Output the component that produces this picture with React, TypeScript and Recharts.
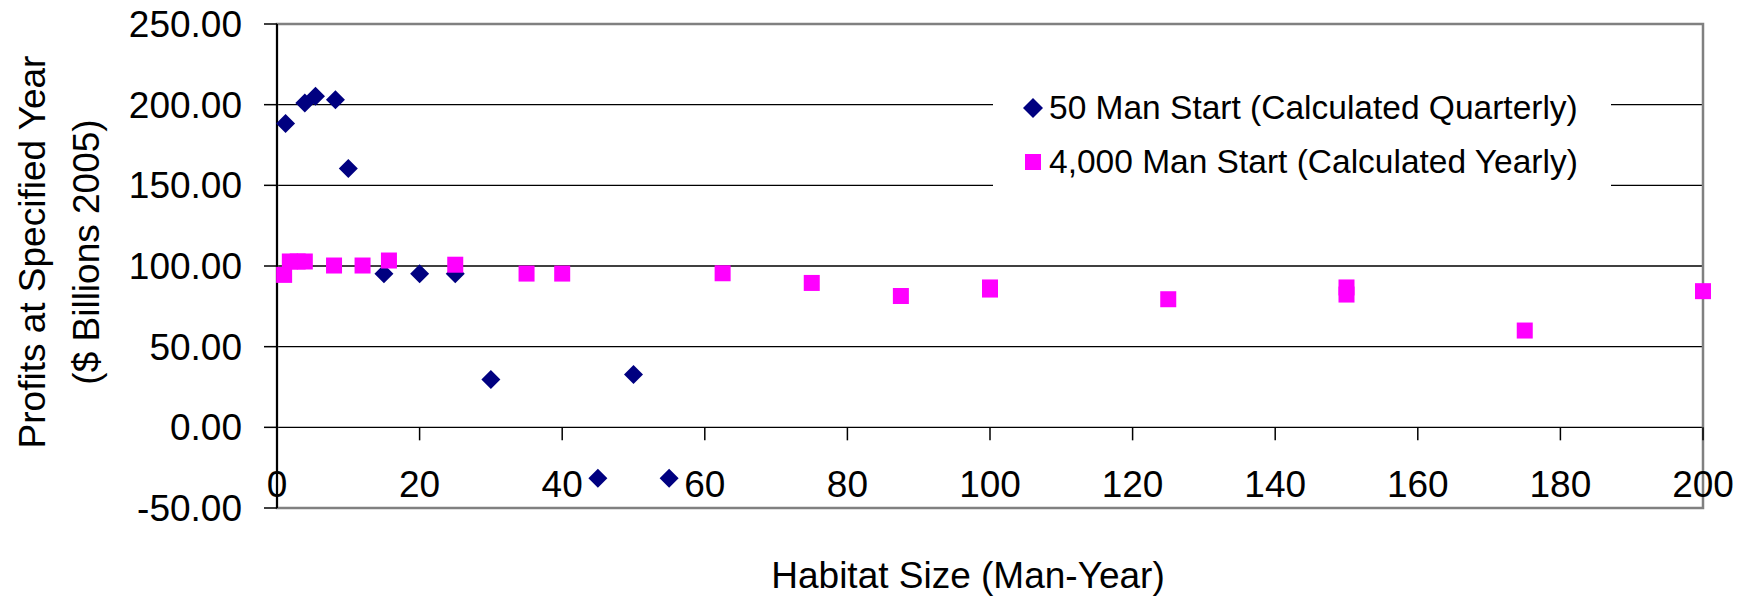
import React from "react";
import {
  ScatterChart,
  Scatter,
  XAxis,
  YAxis,
  CartesianGrid,
  ReferenceArea,
  Legend,
} from "recharts";

// 50 man start, calculated quarterly
const quarterlySize = [1.2, 3.9, 5.4, 8.2, 10, 15, 20, 25, 30, 45, 50, 55];
const quarterlyProfit = [188.4, 201, 205.2, 203, 160.5, 95.2, 95.2, 95.2, 29.7, -31.6, 32.8, -31.6];

// 4,000 man start, calculated yearly
const yearlySize = [1, 1.8, 2.9, 3.9, 8, 12, 15.7, 25, 35, 40, 62.5, 75, 87.5, 100, 100, 125, 150, 150, 175, 200];
const yearlyProfit = [94.5, 102.8, 102.8, 102.8, 100.3, 100.3, 103.4, 100.8, 95.3, 95.3, 95.5, 89.5, 81.4, 86.7, 85.4, 79.4, 86.7, 82.3, 60, 84.4];

const xTicks = [0, 20, 40, 60, 80, 100, 120, 140, 160, 180, 200];
const yTicks = [-50, 0, 50, 100, 150, 200, 250];

const seriesNames = ["50 Man Start (Calculated Quarterly)", "4,000 Man Start (Calculated Yearly)"];

const NAVY = "#000080";
const MAGENTA = "#ff00ff";
const FONT = "'Liberation Sans', Arial, sans-serif";

const W = 1748;
const H = 597;
const TOP = 24;
const X_AXIS_H = 89;
const PLOT_H = H - TOP - X_AXIS_H;
const Y_MIN = -50;
const Y_MAX = 250;

const quarterly = quarterlySize.map((x, i) => ({ x, y: quarterlyProfit[i] }));
const yearly = yearlySize.map((x, i) => ({ x, y: yearlyProfit[i] }));

const Diamond = (props: any) => {
  const { cx, cy } = props;
  const r = 9.5;
  return (
    <polygon
      points={`${cx},${cy - r} ${cx + r},${cy} ${cx},${cy + r} ${cx - r},${cy}`}
      fill={NAVY}
    />
  );
};

const Square = (props: any) => {
  const { cx, cy } = props;
  const s = 16;
  return <rect x={cx - s / 2} y={cy - s / 2} width={s} height={s} fill={MAGENTA} />;
};

// x axis crosses at y = 0, so ticks sit on the zero line
const XTick = (props: any) => {
  const { x, y, payload } = props;
  const y0 = y - (PLOT_H * (0 - Y_MIN)) / (Y_MAX - Y_MIN);
  return (
    <g>
      <line x1={x} x2={x} y1={y0} y2={y0 + 13} stroke="#000" strokeWidth={1.5} />
      <text x={x} y={y0 + 70} textAnchor="middle" fontSize={37} fontFamily={FONT} fill="#000">
        {payload.value}
      </text>
    </g>
  );
};

const YTitle = (props: any) => {
  const vb = props.viewBox;
  const cy = vb.y + vb.height / 2 - 14;
  return (
    <g fontSize={37} fontFamily={FONT} fill="#000">
      <text transform={`translate(45,${cy}) rotate(-90)`} textAnchor="middle">
        Profits at Specified Year
      </text>
      <text transform={`translate(99,${cy}) rotate(-90)`} textAnchor="middle">
        ($ Billions 2005)
      </text>
    </g>
  );
};

const XTitle = (props: any) => {
  const vb = props.viewBox;
  return (
    <text
      x={vb.x + vb.width / 2 - 22}
      y={vb.y + 80}
      textAnchor="middle"
      fontSize={37}
      fontFamily={FONT}
      fill="#000"
    >
      Habitat Size (Man-Year)
    </text>
  );
};

const LegendBox = () => (
  <div style={{ fontFamily: FONT, fontSize: 33.5, color: "#000" }}>
    {seriesNames.map((name, i) => (
      <div key={name} style={{ position: "relative", height: 54, lineHeight: "54px", whiteSpace: "nowrap" }}>
        <svg width={22} height={22} style={{ position: "absolute", left: 29, top: 16 }}>
          {i === 0 ? (
            <polygon points="11,1 21,11 11,21 1,11" fill={NAVY} />
          ) : (
            <rect x={3} y={3} width={16} height={16} fill={MAGENTA} />
          )}
        </svg>
        <span style={{ position: "absolute", left: 56 }}>{name}</span>
      </div>
    ))}
  </div>
);

export default function App() {
  return (
    <div style={{ position: "absolute", left: 0, top: 0, background: "#fff" }}>
      <ScatterChart width={W} height={H} margin={{ top: TOP, right: 45, bottom: 0, left: 0 }}>
        <CartesianGrid horizontal vertical={false} stroke="#000" strokeWidth={1.3} />
        <ReferenceArea
          x1={0}
          x2={200}
          y1={Y_MIN}
          y2={Y_MAX}
          fill="none"
          stroke="#808080"
          strokeWidth={2.5}
        />
        <XAxis
          type="number"
          dataKey="x"
          domain={[0, 200]}
          ticks={xTicks}
          height={X_AXIS_H}
          axisLine={false}
          tickLine={false}
          tickSize={0}
          tickMargin={0}
          tick={<XTick />}
          interval={0}
          label={{ content: <XTitle /> }}
        />
        <YAxis
          type="number"
          dataKey="y"
          domain={[Y_MIN, Y_MAX]}
          ticks={yTicks}
          width={277}
          interval={0}
          axisLine={{ stroke: "#000", strokeWidth: 2 }}
          tickLine={{ stroke: "#000", strokeWidth: 1.5 }}
          tickSize={13}
          tickMargin={22}
          tickFormatter={(v: number) => v.toFixed(2)}
          tick={{ fontSize: 37, fontFamily: FONT, fill: "#000" }}
          label={{ content: <YTitle /> }}
        />
        <Scatter name={seriesNames[0]} data={quarterly} shape={<Diamond />} isAnimationActive={false} />
        <Scatter name={seriesNames[1]} data={yearly} shape={<Square />} isAnimationActive={false} />
        <Legend
          layout="vertical"
          align="center"
          verticalAlign="middle"
          content={<LegendBox />}
          wrapperStyle={{ left: 993, top: 81, width: 618, height: 110, background: "#fff" }}
        />
      </ScatterChart>
    </div>
  );
}
